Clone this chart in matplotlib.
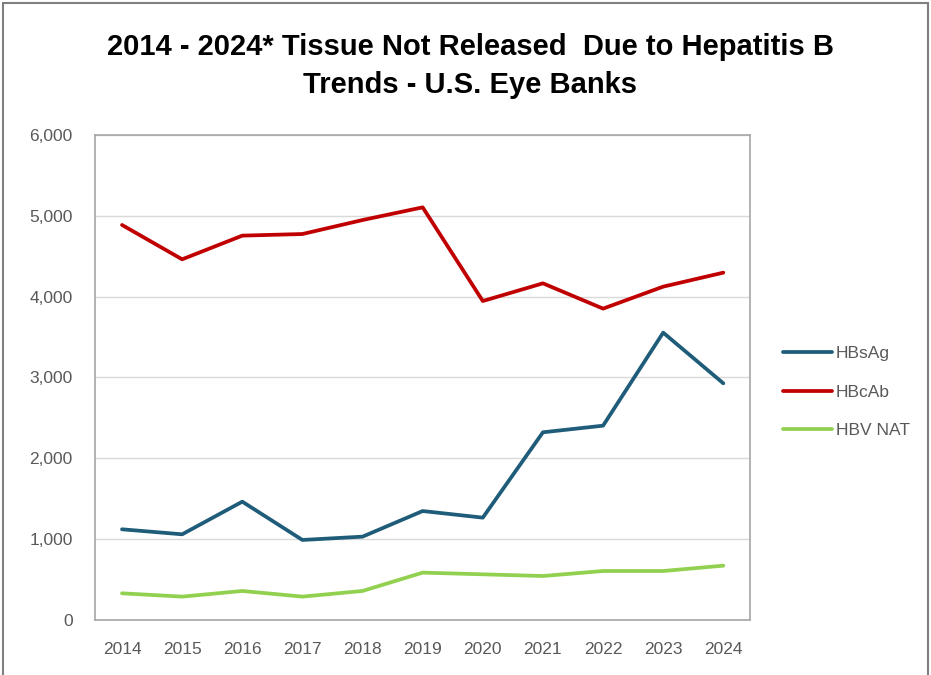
import matplotlib
matplotlib.use("Agg")
import matplotlib.pyplot as plt
from matplotlib.patches import Rectangle
from matplotlib.ticker import FuncFormatter
import numpy as np

years = ["2014", "2015", "2016", "2017", "2018", "2019", "2020", "2021", "2022", "2023", "2024"]
hbsag = [1122, 1060, 1464, 990, 1031, 1348, 1266, 2322, 2404, 3555, 2928]
hbcab = [4887, 4462, 4755, 4775, 4948, 5105, 3946, 4165, 3852, 4124, 4297]
hbv_nat = [330, 289, 359, 289, 359, 586, 565, 544, 606, 606, 672]

plt.rcParams["font.family"] = ["Liberation Sans", "DejaVu Sans"]

fig = plt.figure(figsize=(9.31, 6.75), dpi=100)
ax = fig.add_axes([0.102, 0.0815, 0.704, 0.7185])

x = np.arange(len(years))
ax.plot(x, hbsag, color="#1F5C7A", lw=2.7, label="HBsAg", solid_capstyle="round")
ax.plot(x, hbcab, color="#C00000", lw=2.7, label="HBcAb", solid_capstyle="round")
ax.plot(x, hbv_nat, color="#92D050", lw=2.7, label="HBV NAT", solid_capstyle="round")

ax.set_xlim(-0.45, len(years) - 0.55)
ax.set_ylim(0, 6000)
ax.set_yticks(range(0, 6001, 1000))
ax.yaxis.set_major_formatter(FuncFormatter(lambda v, p: f"{int(v):,}"))
ax.set_xticks(x)
ax.set_xticklabels(years)
ax.tick_params(length=0, labelsize=12.5, colors="#595959", pad=16)
ax.tick_params(axis="y", pad=16)
ax.grid(axis="y", color="#D9D9D9", lw=1)
ax.set_axisbelow(True)
for s in ax.spines.values():
    s.set_color("#A6A6A6")
    s.set_linewidth(1.2)

leg = ax.legend(loc="center left", bbox_to_anchor=(1.05, 0.47), frameon=False,
                fontsize=12.5, handlelength=2.8, handletextpad=0.25, labelspacing=1.35,
                borderaxespad=0, borderpad=0)
for t in leg.get_texts():
    t.set_color("#595959")

fig.text(0.505, 0.93, "2014 - 2024* Tissue Not Released  Due to Hepatitis B",
         ha="center", va="center", fontsize=21, fontweight="bold")
fig.text(0.505, 0.874, "Trends - U.S. Eye Banks",
         ha="center", va="center", fontsize=21, fontweight="bold")

fig.patches.append(Rectangle((0.003, -0.01), 0.994, 1.005, transform=fig.transFigure,
                             fill=False, edgecolor="#7F7F7F", lw=1.5))

fig.savefig("out.png", dpi=100)
